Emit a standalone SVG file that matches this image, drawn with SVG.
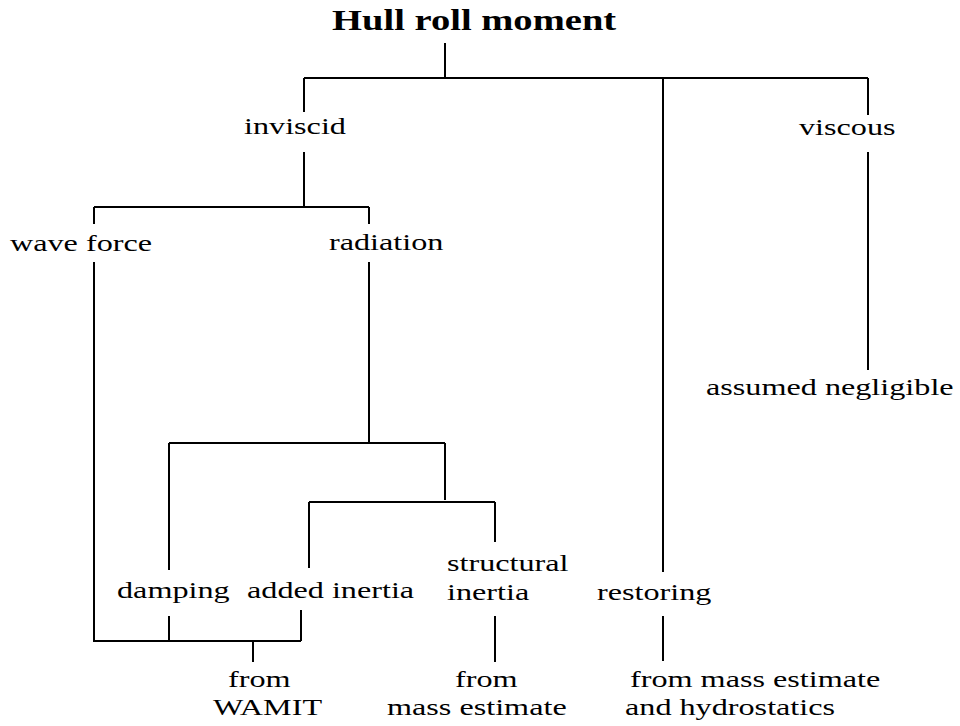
<svg xmlns="http://www.w3.org/2000/svg" width="960" height="726" viewBox="0 0 960 726">
<style>
text{font-family:"Liberation Serif","Times New Roman",serif;font-size:23px;fill:#000}
.title{font-size:29px;font-weight:bold}
.c{fill:none;stroke:#000;stroke-width:2}
</style>
<rect width="960" height="726" fill="#fff"/>
<g id="connectors" class="c">
<path d="M445 43V78M304 78H868M304 78V112M663 78V572M868 78V115"/>
<path d="M304 152V207M94 207H369M94 207V224M369 207V224"/>
<path d="M868 152V370"/>
<path d="M94 262V641H301M369 262V443M169 443H445M169 443V570M445 443V500M309 502H495M309 502V568M495 502V542"/>
<path d="M169 616V641M301 610V641M253 641V662M495 616V662M663 616V661"/>
</g>
<g id="n-hull"><text class="title" transform="translate(332 30) scale(1.33 1)">Hull roll moment</text></g>
<g id="n-inviscid"><text transform="translate(244 134) scale(1.4 1)">inviscid</text></g>
<g id="n-viscous"><text transform="translate(799 135) scale(1.4 1)">viscous</text></g>
<g id="n-wave"><text transform="translate(10 251) scale(1.4 1)">wave force</text></g>
<g id="n-radiation"><text transform="translate(329 250) scale(1.4 1)">radiation</text></g>
<g id="n-negligible"><text transform="translate(706 395) scale(1.4 1)">assumed negligible</text></g>
<g id="n-structural"><text transform="translate(447 571) scale(1.4 1)">structural</text><text transform="translate(447 600) scale(1.4 1)">inertia</text></g>
<g id="n-damping"><text transform="translate(117 598) scale(1.4 1)">damping</text></g>
<g id="n-added"><text transform="translate(247 598) scale(1.4 1)">added inertia</text></g>
<g id="n-restoring"><text transform="translate(597 600) scale(1.4 1)">restoring</text></g>
<g id="n-wamit"><text transform="translate(228 687) scale(1.4 1)">from</text><text transform="translate(213 715) scale(1.4 1)">WAMIT</text></g>
<g id="n-mass"><text transform="translate(455 687) scale(1.4 1)">from</text><text transform="translate(387 715) scale(1.4 1)">mass estimate</text></g>
<g id="n-hydro"><text transform="translate(630 687) scale(1.4 1)">from mass estimate</text><text transform="translate(625 715) scale(1.4 1)">and hydrostatics</text></g>
</svg>
